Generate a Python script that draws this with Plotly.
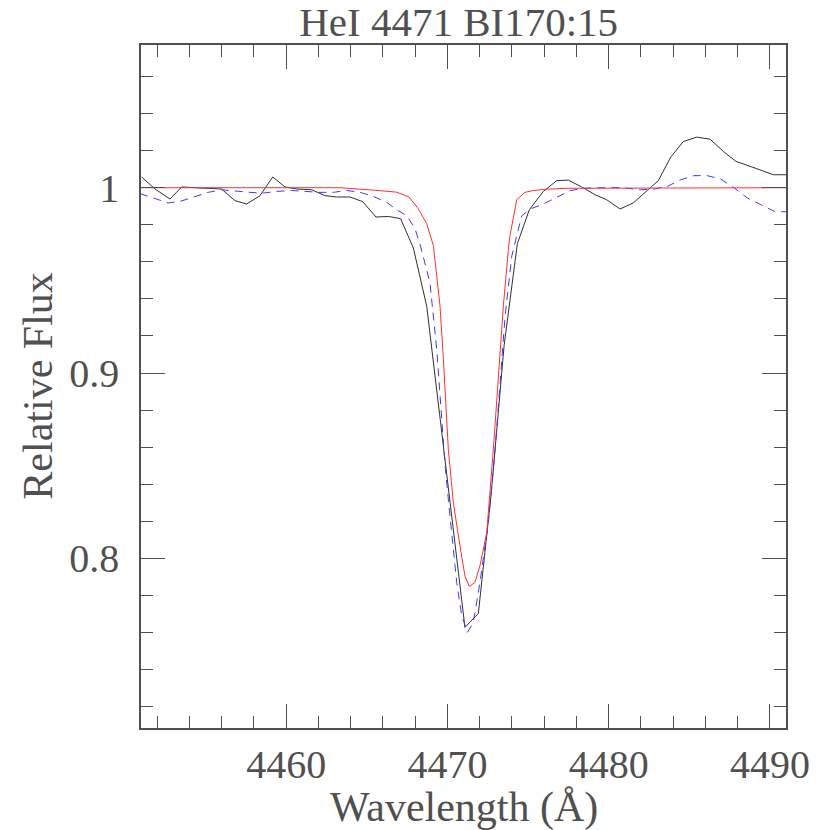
import plotly.graph_objects as go

# observed spectrum (black), wavelength in Angstrom
obs_wave = [4451.04, 4451.87, 4452.80, 4453.52, 4454.35, 4455.15, 4456.00, 4456.83,
            4457.55, 4458.38, 4459.17, 4459.93, 4460.66, 4461.59, 4462.41, 4463.14,
            4463.96, 4464.75, 4465.57, 4466.34, 4467.10, 4467.89, 4468.72, 4469.52,
            4470.32, 4471.09, 4471.92, 4472.72, 4473.52, 4474.34, 4475.08, 4475.95,
            4476.78, 4477.50, 4478.33, 4479.16, 4479.88, 4480.71, 4481.53, 4482.36,
            4483.08, 4483.85, 4484.63, 4485.46, 4486.29, 4487.11, 4487.90, 4489.08,
            4490.21, 4491.04]
obs_flux = [1.0058, 0.9993, 0.9939, 1.0004, 1.0000, 0.9995, 0.9993, 0.9930,
            0.9912, 0.9957, 1.0058, 1.0004, 0.9993, 0.9989, 0.9957, 0.9950,
            0.9950, 0.9925, 0.9842, 0.9845, 0.9833, 0.9675, 0.9360, 0.8776,
            0.8193, 0.7628, 0.7703, 0.8350, 0.9150, 0.9698, 0.9881, 0.9980,
            1.0038, 1.0041, 1.0004, 0.9962, 0.9935, 0.9885, 0.9918, 0.9980,
            1.0038, 1.0165, 1.0249, 1.0273, 1.0262, 1.0196, 1.0142, 1.0106,
            1.0070, 1.0070]

# model profile (red)
red_wave = [4451.0, 4463.34, 4465.41, 4466.86, 4467.62, 4468.20, 4468.72, 4469.13,
            4469.54, 4469.75, 4470.06, 4470.37, 4470.78, 4471.09, 4471.36, 4471.71,
            4472.02, 4472.44, 4472.85, 4473.16, 4473.47, 4473.78, 4473.88, 4474.30,
            4474.81, 4475.33, 4476.16, 4477.40, 4491.0]
red_flux = [1.0000, 1.0000, 0.9987, 0.9976, 0.9950, 0.9886, 0.9806, 0.9688,
            0.9365, 0.9079, 0.8588, 0.8301, 0.8068, 0.7906, 0.7849, 0.7870,
            0.7960, 0.8139, 0.8588, 0.8983, 0.9360, 0.9666, 0.9741, 0.9935,
            0.9975, 0.9985, 0.9992, 0.9997, 1.0000]

# second model (blue dashed)
blue_wave = [4450.94, 4451.76, 4452.69, 4453.42, 4454.35, 4455.17, 4456.00, 4456.93,
             4457.76, 4458.58, 4459.41, 4460.34, 4461.28, 4462.10, 4462.93, 4463.76,
             4464.58, 4465.41, 4466.24, 4466.86, 4467.48, 4467.99, 4468.35, 4468.92,
             4469.34, 4469.65, 4469.86, 4470.16, 4470.58, 4470.89, 4471.24, 4471.61,
             4472.02, 4472.54, 4472.96, 4473.27, 4473.58, 4473.99, 4474.61, 4475.13,
             4475.95, 4476.78, 4477.61, 4478.44, 4479.50, 4480.33, 4481.16, 4481.98,
             4482.81, 4483.64, 4484.47, 4485.29, 4486.12, 4486.95, 4487.77, 4488.60,
             4489.43, 4490.26, 4491.00]
blue_flux = [0.9968, 0.9945, 0.9918, 0.9926, 0.9953, 0.9975, 0.9989, 0.9980,
             0.9975, 0.9971, 0.9980, 0.9985, 0.9980, 0.9975, 0.9975, 0.9985,
             0.9975, 0.9953, 0.9921, 0.9881, 0.9849, 0.9780, 0.9680, 0.9487,
             0.9128, 0.8768, 0.8499, 0.8229, 0.7870, 0.7691, 0.7601, 0.7654,
             0.7870, 0.8193, 0.8588, 0.8947, 0.9306, 0.9630, 0.9848, 0.9885,
             0.9912, 0.9948, 0.9984, 0.9997, 1.0002, 1.0002, 0.9997, 0.9989,
             0.9993, 1.0007, 1.0043, 1.0065, 1.0065, 1.0047, 1.0000, 0.9945,
             0.9909, 0.9873, 0.9870]

font_name = "Liberation Serif"
text_col = "#505050"

fig = go.Figure()
fig.add_trace(go.Scatter(x=obs_wave, y=obs_flux, mode="lines",
                         line=dict(color="#303030", width=1)))
fig.add_trace(go.Scatter(x=blue_wave, y=blue_flux, mode="lines",
                         line=dict(color="#3a3aff", width=1, dash="8px,6px")))
fig.add_trace(go.Scatter(x=red_wave, y=red_flux, mode="lines",
                         line=dict(color="#ff3030", width=1)))

axis_common = dict(
    showgrid=False, zeroline=False, showline=True, linecolor="#505050", linewidth=1.5,
    mirror="allticks", ticks="inside", ticklen=24, tickcolor="#505050", tickwidth=1,
    automargin=False,
    tickfont=dict(family=font_name, size=40, color=text_col),
)

fig.update_xaxes(range=[4451, 4491], dtick=10, tick0=4450, ticklabelstandoff=0,
                 minor=dict(dtick=2, tick0=4450, ticks="inside", ticklen=12,
                            tickcolor="#505050", tickwidth=1),
                 **axis_common)
fig.update_yaxes(range=[0.7085, 1.077], dtick=0.1, tick0=0, ticklabelstandoff=12,
                 minor=dict(dtick=0.02, tick0=0, ticks="inside", ticklen=12,
                            tickcolor="#505050", tickwidth=1),
                 **axis_common)

# the page adds an 8px body margin, so the frame is placed 8px up/left
fig.update_layout(
    width=830, height=830,
    margin=dict(l=133, r=52, t=37, b=110),
    paper_bgcolor="white", plot_bgcolor="white",
    showlegend=False,
    title=dict(text="HeI 4471 BI170:15", x=0.543, xanchor="center",
               y=0.984, yanchor="middle",
               font=dict(family=font_name, size=41, color=text_col)),
    annotations=[
        dict(text="Wavelength (Å)", xref="paper", yref="paper", x=0.5, y=-0.1157,
             xanchor="center", yanchor="middle", showarrow=False,
             font=dict(family=font_name, size=42, color=text_col)),
        dict(text="Relative Flux", xref="paper", yref="paper", x=-0.161, y=0.5,
             xanchor="center", yanchor="middle", showarrow=False, textangle=-90,
             font=dict(family=font_name, size=42, color=text_col)),
    ],
)

fig.write_html("out.html")
